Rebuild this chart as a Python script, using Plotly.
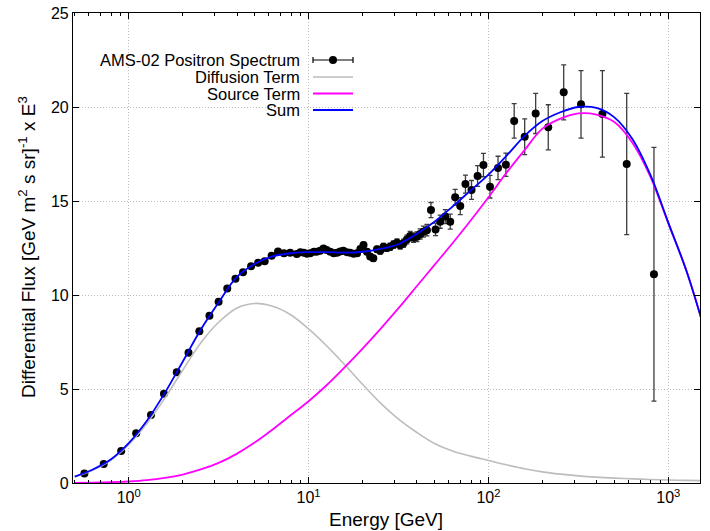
import math
import plotly.graph_objects as go

# ---------------- data ----------------
energy = [0.567, 0.726, 0.908, 1.10, 1.33, 1.57, 1.85, 2.15, 2.47, 2.81, 3.16, 3.53, 3.92,
          4.32, 4.79, 5.24, 5.70, 6.23, 6.76, 7.3, 7.9, 8.6, 9.0, 9.4, 9.8, 10.2, 10.7, 11.1,
          11.6, 12.1, 12.6, 13.2, 13.8, 14.4, 15.0, 15.6, 16.3, 17.0, 17.8, 18.6, 19.4, 20.2,
          21.1, 22.0, 22.9, 24.0, 25.0, 26.1, 27.2, 28.4, 29.7, 31.0, 32.3, 33.7, 35.2, 36.7,
          38.3, 40.0, 41.7, 43.5, 45.5, 47.9, 50.8, 53.9, 57.5, 61.3, 65.3, 69.7, 74.5, 80.5,
          87.0, 93.8, 102, 113, 125, 139, 159, 183, 215, 262, 327, 430, 587, 832]
flux = [0.50, 1.01, 1.70, 2.64, 3.62, 4.75, 5.89, 6.93, 8.07, 8.90, 9.64, 10.34, 10.87,
        11.21, 11.53, 11.72, 11.79, 12.09, 12.32, 12.22, 12.25, 12.18, 12.28, 12.25, 12.20, 12.22, 12.30, 12.30,
        12.35, 12.48, 12.40, 12.30, 12.22, 12.25, 12.32, 12.36, 12.28, 12.25, 12.20, 12.22, 12.45, 12.66,
        12.30, 12.05, 11.95, 12.43, 12.35, 12.57, 12.50, 12.57, 12.68, 12.78, 12.65, 12.75, 12.95, 13.14,
        13.05, 13.10, 13.25, 13.37, 13.45, 14.52, 13.49, 13.90, 14.17, 13.90, 15.20, 14.73, 15.90, 15.59,
        16.33, 16.91, 15.76, 16.76, 16.93, 19.26, 18.42, 19.66, 18.92, 20.78, 20.14, 19.63, 16.97, 11.10]
flux_err = [0.03, 0.03, 0.03, 0.03, 0.03, 0.03, 0.03, 0.03, 0.03, 0.03, 0.03, 0.03, 0.03,
            0.04, 0.04, 0.04, 0.04, 0.05, 0.05, 0.06, 0.06, 0.07, 0.07, 0.07, 0.08, 0.08, 0.08, 0.09,
            0.09, 0.09, 0.10, 0.10, 0.10, 0.11, 0.11, 0.12, 0.12, 0.12, 0.13, 0.13, 0.14, 0.14,
            0.15, 0.15, 0.16, 0.16, 0.17, 0.17, 0.18, 0.19, 0.20, 0.20, 0.21, 0.22, 0.23, 0.24,
            0.25, 0.26, 0.27, 0.29, 0.30, 0.40, 0.33, 0.35, 0.37, 0.40, 0.42, 0.45, 0.48, 0.50,
            0.55, 0.62, 0.60, 0.62, 0.62, 0.92, 0.95, 1.07, 1.20, 1.46, 1.80, 2.30, 3.76, 6.75]

# model curves, sampled every 0.1 decade
curve_energy = [0.501, 0.631, 0.794, 1.0, 1.259, 1.585, 1.995, 2.512, 3.162, 3.981, 5.012,
                6.31, 7.943, 10.0, 12.59, 15.85, 19.95, 25.12, 31.62, 39.81, 50.12, 63.1,
                79.43, 100.0, 125.9, 158.5, 199.5, 251.2, 316.2, 398.1, 501.2, 631.0, 794.3,
                1000.0, 1259.0, 1585.0]
diffusion = [0.33, 0.68, 1.21, 2.04, 3.15, 4.5, 6.0, 7.45, 8.55, 9.3, 9.55, 9.4, 8.95, 8.2,
             7.3, 6.3, 5.25, 4.25, 3.4, 2.7, 2.1, 1.7, 1.43, 1.2, 0.97, 0.76, 0.59, 0.47,
             0.38, 0.31, 0.26, 0.22, 0.19, 0.16, 0.14, 0.12]
source = [0.01, 0.02, 0.04, 0.08, 0.15, 0.27, 0.45, 0.72, 1.07, 1.55, 2.15, 2.85, 3.6, 4.35,
          5.2, 6.15, 7.15, 8.2, 9.3, 10.45, 11.6, 12.75, 13.95, 15.2, 16.5, 17.7, 18.85,
          19.38, 19.66, 19.6, 19.2, 18.1, 16.3, 13.8, 11.3, 8.2]
total = [0.34, 0.72, 1.25, 2.12, 3.3, 4.78, 6.45, 8.15, 9.6, 10.95, 11.65, 12.05, 12.22,
         12.28, 12.28, 12.25, 12.3, 12.45, 12.7, 13.25, 13.9, 14.7, 15.55, 16.4, 17.4, 18.45,
         19.25, 19.72, 20.0, 19.95, 19.45, 18.3, 16.4, 13.85, 11.3, 8.2]

x_tick_values = [1, 10, 100, 1000]
x_tick_labels = ["10<sup>0</sup>", "10<sup>1</sup>", "10<sup>2</sup>", "10<sup>3</sup>"]
y_tick_values = [0, 5, 10, 15, 20, 25]

legend_labels = ["AMS-02 Positron Spectrum", "Diffusion Term", "Source Term", "Sum"]
x_title = "Energy [GeV]"
y_title = "Differential Flux [GeV m<sup>2</sup> s sr]<sup>-1</sup> x E<sup>3</sup>"

# ---------------- figure ----------------
FONT = "Liberation Sans, Arial, sans-serif"
C_DIFF = "#bdbdbd"
C_SRC = "#ff00ff"
C_SUM = "#0000ff"

fig = go.Figure()
fig.add_trace(go.Scatter(
    x=energy, y=flux, mode="markers",
    marker=dict(size=8, color="black"),
    error_y=dict(type="data", array=flux_err, color="#3c3c3c", thickness=1.3, width=2.5),
    showlegend=False))
fig.add_trace(go.Scatter(x=curve_energy, y=diffusion, mode="lines", line_shape="spline",
                         line=dict(color=C_DIFF, width=1.6), showlegend=False))
fig.add_trace(go.Scatter(x=curve_energy, y=source, mode="lines", line_shape="spline",
                         line=dict(color=C_SRC, width=1.8), showlegend=False))
fig.add_trace(go.Scatter(x=curve_energy, y=total, mode="lines", line_shape="spline",
                         line=dict(color=C_SUM, width=1.8), showlegend=False))

minor_vals = [m * 10 ** k for k in range(-1, 4) for m in range(2, 10)]
GRID = dict(showgrid=True, gridcolor="#bbbbbb", griddash="1px,2px", gridwidth=1)

fig.update_xaxes(
    type="log", range=[math.log10(0.49), math.log10(1500)],
    tickvals=x_tick_values, ticktext=x_tick_labels,
    ticks="inside", ticklen=6, tickwidth=1, tickcolor="black",
    showline=True, linecolor="black", linewidth=1.2, mirror="allticks",
    minor=dict(ticks="inside", ticklen=3, tickcolor="black", tickvals=minor_vals, showgrid=False),
    zeroline=False, automargin=False,
    tickfont=dict(family=FONT, size=16, color="black"),
    **GRID,
)
fig.update_yaxes(
    range=[0, 25], tickvals=y_tick_values,
    ticks="inside", ticklen=6, tickwidth=1, tickcolor="black",
    showline=True, linecolor="black", linewidth=1.2, mirror="allticks",
    zeroline=False, automargin=False,
    tickfont=dict(family=FONT, size=16, color="black"),
    **GRID,
)

# ---------------- manual gnuplot-style legend and axis titles ----------------
L, R, T, B = 73, 700, 13, 483
def px(x):
    return (x - L) / (R - L)
def py(y):
    return (B - y) / (B - T)

rows_y = [60, 77, 93.5, 110]
text_right = 302
s0, s1 = 313, 353
shapes = []
annotations = []
for lab, yy in zip(legend_labels, rows_y):
    annotations.append(dict(text=lab, xref="paper", yref="paper", x=px(text_right), y=py(yy),
                            xanchor="right", yanchor="middle", showarrow=False,
                            font=dict(family=FONT, size=16.5, color="black")))
annotations.append(dict(text=x_title, xref="paper", yref="paper", x=px(386), y=py(519),
                        xanchor="center", yanchor="middle", showarrow=False,
                        font=dict(family=FONT, size=19, color="black")))
annotations.append(dict(text=y_title, xref="paper", yref="paper", x=px(27), y=py(247),
                        xanchor="center", yanchor="middle", showarrow=False, textangle=-90,
                        font=dict(family=FONT, size=19, color="black")))
# errorbar sample
shapes.append(dict(type="line", xref="paper", yref="paper", x0=px(s0), x1=px(s1),
                   y0=py(rows_y[0]), y1=py(rows_y[0]), line=dict(color="black", width=1.2)))
for xx in (s0, s1):
    shapes.append(dict(type="line", xref="paper", yref="paper", x0=px(xx), x1=px(xx),
                       y0=py(rows_y[0] - 3), y1=py(rows_y[0] + 3), line=dict(color="black", width=1.2)))
shapes.append(dict(type="circle", xref="paper", yref="paper", xsizemode="pixel", ysizemode="pixel",
                   xanchor=px((s0 + s1) / 2), yanchor=py(rows_y[0]), x0=-4, x1=4, y0=-4, y1=4,
                   fillcolor="black", line=dict(color="black", width=0)))
for col, yy, w in ((C_DIFF, rows_y[1], 1.6), (C_SRC, rows_y[2], 1.8), (C_SUM, rows_y[3], 1.8)):
    shapes.append(dict(type="line", xref="paper", yref="paper", x0=px(s0), x1=px(s1),
                       y0=py(yy), y1=py(yy), line=dict(color=col, width=w)))

fig.update_layout(
    width=710, height=531,
    margin=dict(l=L, r=710 - R, t=T, b=531 - B, autoexpand=False),
    paper_bgcolor="white", plot_bgcolor="white",
    font=dict(family=FONT, color="black"),
    shapes=shapes, annotations=annotations,
    showlegend=False,
)

fig.write_html("out.html", config={"displayModeBar": False},
               post_script="document.body.style.margin='0';document.body.style.overflow='hidden';")
